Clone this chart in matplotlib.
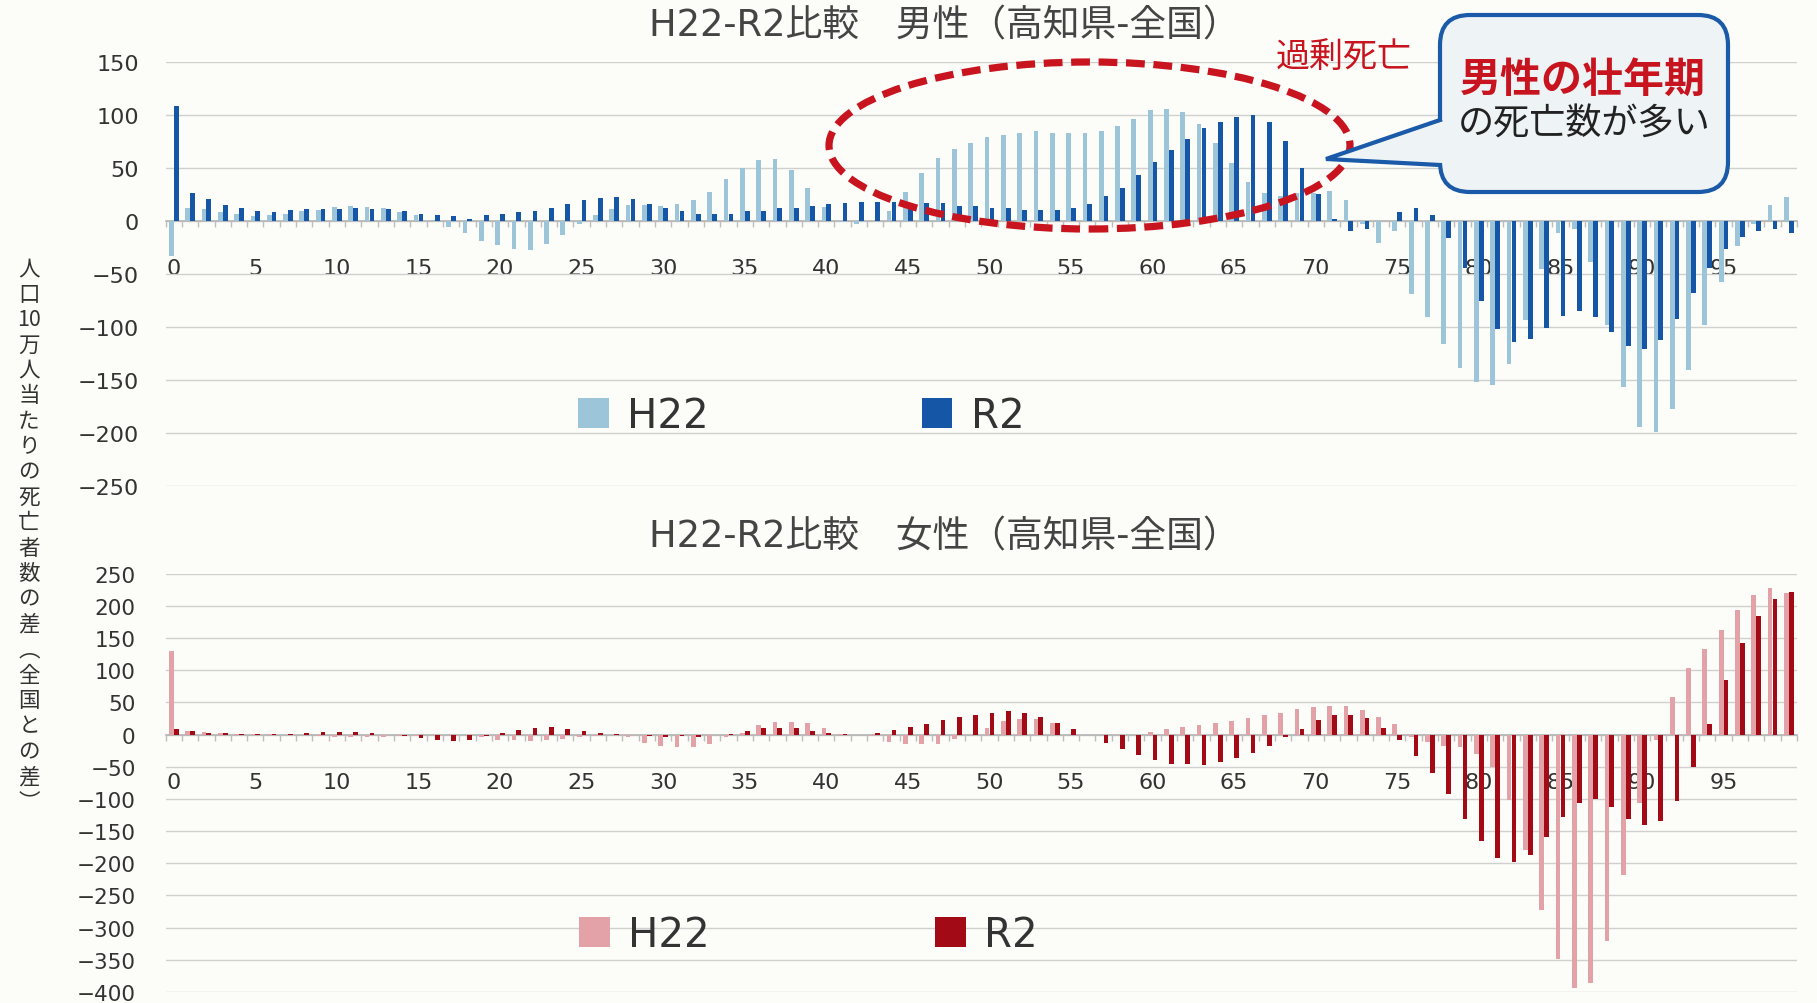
import matplotlib
matplotlib.use('Agg')
import matplotlib.pyplot as plt
import numpy as np
from matplotlib.patches import Ellipse, FancyBboxPatch, Polygon
from matplotlib.lines import Line2D

plt.rcParams['font.family'] = ['DejaVu Sans', 'Noto Sans CJK JP']

# ---------------- data ----------------
ages = list(range(100))
xtick_values = list(range(0, 100, 5))
xtick_labels = [str(v) for v in xtick_values]
series_labels = ['H22', 'R2']

male_h22 = [-33, 12, 11, 8, 6, 4, 5, 6, 9, 10,
            13, 14, 13, 12, 8, 5, 1, -6, -12, -19,
            -23, -27, -28, -22, -14, -3, 5, 11, 15, 15,
            14, 16, 19, 27, 39, 50, 57, 58, 48, 31,
            13, -1, -3, 0, 9, 27, 45, 59, 68, 73,
            79, 81, 83, 85, 83, 83, 83, 85, 89, 96,
            104, 105, 102, 91, 73, 54, 36, 26, 23, 26,
            26, 28, 19, -3, -21, -10, -69, -91, -116, -139,
            -152, -155, -135, -94, -46, -12, -8, -39, -98, -157,
            -195, -199, -178, -141, -98, -58, -24, -3, 15, 22]

male_r2 = [108, 26, 20, 15, 12, 9, 8, 10, 11, 11,
           11, 12, 11, 11, 9, 6, 5, 4, 2, 5,
           6, 8, 9, 12, 16, 19, 21, 22, 20, 16,
           12, 9, 6, 6, 6, 9, 9, 12, 12, 14,
           16, 17, 18, 18, 18, 17, 17, 17, 14, 14,
           12, 12, 10, 10, 10, 12, 16, 23, 31, 43,
           55, 67, 77, 87, 93, 98, 100, 93, 75, 50,
           25, 2, -10, -8, 0, 8, 12, 5, -16, -45,
           -76, -102, -114, -112, -101, -90, -85, -91, -105, -118,
           -121, -113, -93, -68, -45, -27, -15, -10, -8, -12]

female_h22 = [130, 6, 4, 2, 1.5, 1, 0.5, 0, 0, -1.5,
              -3, -4, -4, -4, -2.5, -1.5, -0.5, 0, 0, -3,
              -8, -9, -10, -9, -7, -3, -1.5, 0, -3, -13,
              -17, -20, -20, -14, -3, 2, 15, 20, 20, 18,
              10, 1, 0, -2, -12, -14, -14, -14, -7, 0,
              10, 21, 24, 24, 18, 0, 0, 0, 0, 0,
              4, 8, 12, 15, 18, 21, 25, 30, 34, 39,
              43, 44, 44, 38, 27, 16, -3, -12, -17, -20,
              -30, -51, -102, -179, -272, -348, -394, -386, -320, -218,
              -107, -9, 59, 104, 133, 163, 194, 217, 228, 220]

female_r2 = [8, 5, 3, 2, 1.5, 0.5, 0.5, 0.5, 2, 3.5,
             4, 4, 2.5, -0.5, -1.5, -5, -9, -10.5, -8, -2.5,
             2, 7, 10.5, 11.5, 8, 6, 3, 1, 0, -2,
             -3, -2, -3, -1, 1, 5, 11, 11, 11, 6,
             3, 1, -1, 2, 7, 12, 17, 22, 27, 31,
             34, 36, 33, 28, 18, 8, 0, -13, -23, -31,
             -40, -45, -46, -47, -43, -37, -29, -18, -4, 9,
             22, 30, 31, 25, 10, -9, -33, -59, -93, -131,
             -166, -191, -198, -187, -159, -128, -106, -100, -113, -131,
             -141, -134, -103, -51, 17, 85, 143, 185, 211, 221]

male_title = 'H22-R2比較　男性（高知県-全国）'
female_title = 'H22-R2比較　女性（高知県-全国）'
ylabel_lines = ['人', '口', '10', '万', '人', '当', 'た', 'り', 'の', '死', '亡',
                '者', '数', 'の', '差', '︵', '全', '国', 'と', 'の', '差', '︶']
note_red = '過剰死亡'
callout_bold = '男性の壮年期'
callout_text = 'の死亡数が多い'

top_yticks = list(range(-250, 151, 50))
bot_yticks = list(range(-400, 251, 50))

# ---------------- figure ----------------
W, H = 1817, 1004
BG = '#fcfcf9'
fig = plt.figure(figsize=(W / 100, H / 100), dpi=100, facecolor=BG)


def fx(px):
    return px / W


def fy(py):
    return 1 - py / H


left_px, right_px = 165.6, 1797
ax1 = fig.add_axes([fx(left_px), fy(486.7), (right_px - left_px) / W, (486.7 - 62.6) / H])
ax2 = fig.add_axes([fx(left_px), fy(993), (right_px - left_px) / W, (993 - 574.7) / H])

TXT = '#333333'


def draw_panel(ax, h22, r2, c1, c2, ylim, yticks, pad_x, pad_y, ysize):
    x = np.arange(len(ages))
    b1 = ax.bar(x - 0.15, h22, width=0.29, color=c1, zorder=3, label=series_labels[0])
    b2 = ax.bar(x + 0.15, r2, width=0.29, color=c2, zorder=4, label=series_labels[1])
    ax.set_xlim(-0.5, len(ages) - 0.5)
    ax.set_ylim(*ylim)
    ax.set_yticks(yticks)
    ax.set_facecolor('none')
    for s in ['top', 'right', 'left']:
        ax.spines[s].set_visible(False)
    ax.spines['bottom'].set_position(('data', 0))
    ax.spines['bottom'].set_color('#b5b5b5')
    ax.spines['bottom'].set_linewidth(1.2)
    ax.set_xticks(xtick_values)
    ax.set_xticklabels(xtick_labels)
    ax.set_xticks(np.arange(-0.5, len(ages), 1), minor=True)
    ax.tick_params(axis='x', which='major', length=0, pad=pad_x, labelsize=16, labelcolor=TXT)
    ax.tick_params(axis='x', which='minor', length=4, color='#bdbdbd', width=1)
    ax.tick_params(axis='y', length=0, pad=pad_y, labelsize=ysize, labelcolor=TXT)
    ax.yaxis.grid(True, color='#d0d0d0', lw=1.0)
    ax.set_axisbelow(True)
    return b1, b2


m1, m2 = draw_panel(ax1, male_h22, male_r2, '#9cc5da', '#1556a6',
                    (-250, 150), top_yticks, 27, 19, 16)
f1, f2 = draw_panel(ax2, female_h22, female_r2, '#e3a2a8', '#a20b16',
                    (-400, 250), bot_yticks, 27, 21.5, 15.5)

ax1.legend(handles=[m1, m2], labels=series_labels, loc='center left',
           bbox_to_anchor=(fx(578), fy(417)), bbox_transform=fig.transFigure,
           ncol=2, frameon=False, fontsize=29, handlelength=0.76, handleheight=0.76,
           handletextpad=0.45, columnspacing=5.3, borderpad=0, borderaxespad=0,
           labelcolor=TXT)
ax2.legend(handles=[f1, f2], labels=series_labels, loc='center left',
           bbox_to_anchor=(fx(579), fy(936)), bbox_transform=fig.transFigure,
           ncol=2, frameon=False, fontsize=29, handlelength=0.76, handleheight=0.76,
           handletextpad=0.45, columnspacing=5.6, borderpad=0, borderaxespad=0,
           labelcolor=TXT)

# titles
fig.text(fx(944), fy(25.5), male_title, ha='center', va='center', fontsize=26.5, color='#444444')
fig.text(fx(944), fy(536.5), female_title, ha='center', va='center', fontsize=26.5, color='#444444')

# vertical y label
fig.text(fx(29), fy(536), '\n'.join(ylabel_lines), ha='center', va='center',
         fontsize=15.5, linespacing=1.2, color=TXT, family=['Noto Sans CJK JP', 'DejaVu Sans'])

# ---------------- annotations (inch coordinates) ----------------
T = fig.dpi_scale_trans
RED = '#c8141e'
BLUE = '#1a5aa8'


def ix(px):
    return px / 100


def iy(py):
    return (H - py) / 100


ell = Ellipse((ix(1089.5), iy(146.5)), 5.21, 1.67, fill=False, edgecolor=RED,
              lw=5.2, linestyle=(0, (2.6, 1.2)), transform=T, zorder=5)
fig.add_artist(ell)

fig.text(fx(1344), fy(57), note_red, ha='center', va='center', fontsize=24.5, color=RED,
         family=['Noto Sans CJK JP', 'DejaVu Sans'])

box = FancyBboxPatch((ix(1440), iy(193)), ix(1728) - ix(1440), iy(16) - iy(193),
                     boxstyle='round,pad=0,rounding_size=0.3', facecolor='#eef3f6',
                     edgecolor=BLUE, lw=3, transform=T, zorder=6)
fig.add_artist(box)
ptr_fill = Polygon([(ix(1446), iy(121)), (ix(1326), iy(160)), (ix(1446), iy(166))],
                   closed=True, facecolor='#eef3f6', edgecolor='none', transform=T, zorder=7)
fig.add_artist(ptr_fill)
ptr_line = Line2D([ix(1440), ix(1326), ix(1440)], [iy(121), iy(160), iy(166)],
                  color=BLUE, lw=3, transform=T, zorder=8, solid_joinstyle='miter')
fig.add_artist(ptr_line)

fig.text(fx(1583), fy(80), callout_bold, ha='center', va='center', fontsize=29.5,
         fontweight='bold', color=RED, family=['Noto Sans CJK JP', 'DejaVu Sans'], zorder=9)
fig.text(fx(1584), fy(125), callout_text, ha='center', va='center', fontsize=26,
         color='#222222', family=['Noto Sans CJK JP', 'DejaVu Sans'], zorder=9)

fig.savefig('out.png', dpi=100, facecolor=BG)
